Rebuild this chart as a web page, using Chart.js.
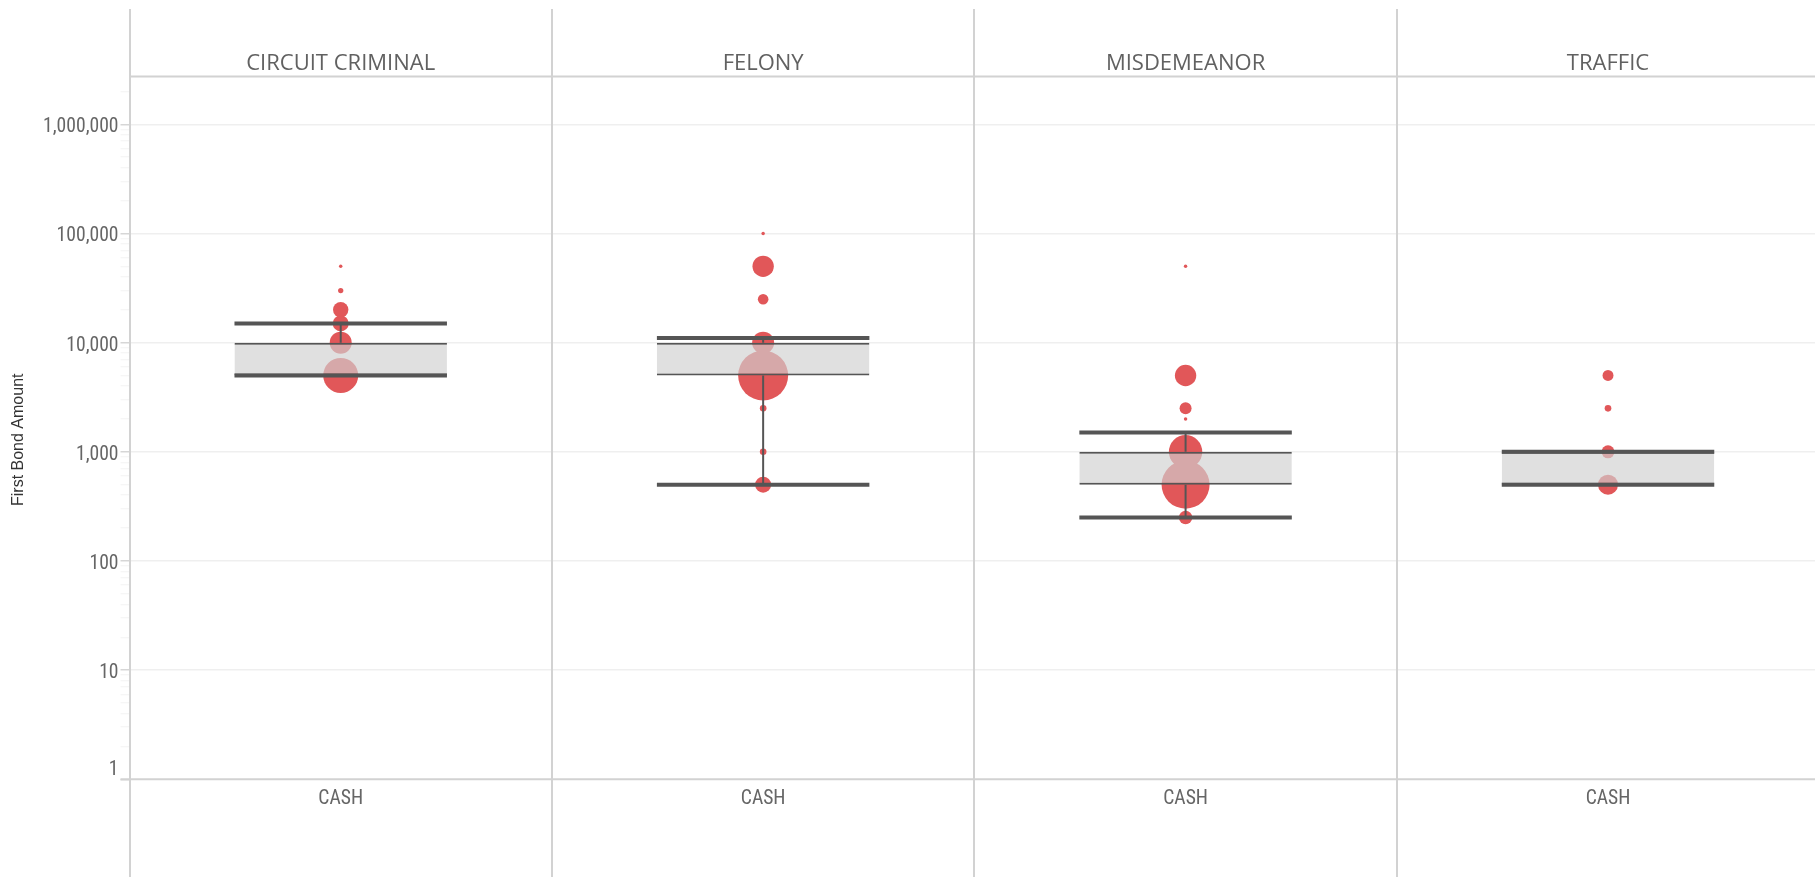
<!DOCTYPE html>
<html><head><meta charset="utf-8">
<script src="https://cdn.jsdelivr.net/npm/chart.js@4.4.1/dist/chart.umd.min.js"></script>
<style>html,body{margin:0;padding:0;background:#fff;overflow:hidden}</style>
</head><body>
<canvas id="c" width="1815" height="877"></canvas>
<script>
// ---- data ----
const panelTitles = ['CIRCUIT CRIMINAL', 'FELONY', 'MISDEMEANOR', 'TRAFFIC'];
const categoryLabels = ['CASH', 'CASH', 'CASH', 'CASH'];
const q1Values = [5000, 5000, 500, 500];
const q3Values = [10000, 10000, 1000, 1000];
const lowerWhiskers = [5000, 500, 250, 500];
const upperWhiskers = [15000, 11000, 1500, 1000];
const circuitAmounts = [50000, 30000, 20000, 15000, 10000, 5000];
const circuitCounts = [3, 7, 59, 64, 121, 306];
const felonyAmounts = [100000, 50000, 25000, 10000, 5000, 2500, 1000, 500];
const felonyCounts = [3, 114, 28, 121, 625, 11, 11, 64];
const misdemeanorAmounts = [50000, 5000, 2500, 2000, 1000, 500, 250];
const misdemeanorCounts = [3, 114, 36, 3, 279, 576, 45];
const trafficAmounts = [5000, 2500, 1000, 500];
const trafficCounts = [30, 11, 42, 100];
const yTickValues = [1, 10, 100, 1000, 10000, 100000, 1000000];
const yTickLabels = ['1', '10', '100', '1,000', '10,000', '100,000', '1,000,000'];
const yAxisTitle = 'First Bond Amount';

// ---- build ----
const amountsByPanel = [circuitAmounts, felonyAmounts, misdemeanorAmounts, trafficAmounts];
const countsByPanel = [circuitCounts, felonyCounts, misdemeanorCounts, trafficCounts];
const pointData = [];
amountsByPanel.forEach((arr, p) => arr.forEach((v, k) => pointData.push({x: p + 0.5, y: v, count: countsByPanel[p][k]})));
const boxData = q1Values.map((q, p) => ({x: p + 0.5, y: [q, q3Values[p]]}));
const whiskerLine = [];
q1Values.forEach((q, p) => {
  whiskerLine.push({x: p + 0.5, y: q3Values[p]}, {x: p + 0.5, y: upperWhiskers[p]}, {x: p + 0.5, y: null});
  whiskerLine.push({x: p + 0.5, y: lowerWhiskers[p]}, {x: p + 0.5, y: q}, {x: p + 0.5, y: null});
});
const capData = [];
q1Values.forEach((q, p) => { capData.push({x: p + 0.5, y: upperWhiskers[p]}, {x: p + 0.5, y: lowerWhiskers[p]}); });

const BOX_FRACTION = 0.503;
const RED = '#e15759';
const DARK = '#555555';

// pick an installed condensed font for tick labels
const probe = document.createElement('canvas').getContext('2d');
function hasFont(name) {
  const s = 'CASH 1,000,000 First Bond';
  probe.font = '40px monospace'; const m = probe.measureText(s).width;
  probe.font = '40px "' + name + '", monospace'; const w = probe.measureText(s).width;
  probe.font = '40px serif'; const sr = probe.measureText(s).width;
  probe.font = '40px "' + name + '", serif'; const w2 = probe.measureText(s).width;
  return w !== m || w2 !== sr;
}
const narrowCandidates = ['Liberation Sans Narrow', 'Arial Narrow', 'Roboto Condensed', 'DejaVu Sans Condensed', 'Roboto', 'Liberation Sans'];
const tickFamily = narrowCandidates.find(hasFont) || 'sans-serif';
probe.font = '20px "' + tickFamily + '"';
const wRef = probe.measureText('1,000,000').width;
const tickSize = Math.min(20, Math.round(20 * Math.sqrt(74 / wRef) * 10) / 10);

const isDecade = v => Math.abs(Math.log10(v) - Math.round(Math.log10(v))) < 1e-9;

const facetPlugin = {
  id: 'facets',
  beforeDraw(chart) {
    const c = chart.ctx;
    c.save(); c.fillStyle = '#fff'; c.fillRect(0, 0, chart.width, chart.height); c.restore();
  },
  afterDraw(chart) {
    const {ctx, chartArea: a, scales: {x}} = chart;
    ctx.save();
    ctx.strokeStyle = '#d2d2d2';
    ctx.lineWidth = 2;
    ctx.beginPath();
    ctx.moveTo(a.left, a.top); ctx.lineTo(a.right, a.top);
    ctx.moveTo(a.left - 9, a.bottom); ctx.lineTo(a.right, a.bottom);
    for (let i = 0; i < panelTitles.length; i++) {
      const px = Math.round(x.getPixelForValue(i));
      ctx.moveTo(px, 9); ctx.lineTo(px, chart.height);
    }
    ctx.stroke();
    ctx.fillStyle = '#616161';
    ctx.font = '22px "Open Sans", sans-serif';
    ctx.textAlign = 'center';
    ctx.textBaseline = 'alphabetic';
    panelTitles.forEach((t, i) => ctx.fillText(t, x.getPixelForValue(i + 0.5), a.top - 6.5));
    // y axis title
    ctx.fillStyle = '#333333';
    ctx.font = '16px "Liberation Sans", Arial, sans-serif';
    ctx.textBaseline = 'middle';
    ctx.translate(19, (a.top + chart.height) / 2 - 37);
    ctx.rotate(-Math.PI / 2);
    ctx.fillText(yAxisTitle, 0, 0);
    ctx.restore();
  }
};

new Chart(document.getElementById('c'), {
  data: {
    datasets: [
      {
        type: 'scatter', label: 'records', data: pointData, order: 3,
        backgroundColor: RED, borderWidth: 0,
        pointRadius: ctx => Math.sqrt(ctx.raw.count), pointHoverRadius: ctx => Math.sqrt(ctx.raw.count)
      },
      {
        type: 'bar', label: 'box', data: boxData, order: 2,
        backgroundColor: 'rgba(209,209,209,0.67)', borderColor: DARK,
        borderWidth: {top: 2, bottom: 2, left: 0, right: 0}, borderSkipped: false,
        barPercentage: BOX_FRACTION, categoryPercentage: 1
      },
      {
        type: 'line', label: 'whisker', data: whiskerLine, order: 1,
        borderColor: DARK, borderWidth: 2, pointRadius: 0, spanGaps: false, fill: false
      },
      {
        type: 'scatter', label: 'caps', data: capData, order: 0,
        pointStyle: 'line', borderColor: DARK, backgroundColor: DARK, borderWidth: 4,
        pointRadius: ctx => { const s = ctx.chart.scales.x; return (s.getPixelForValue(1) - s.getPixelForValue(0)) * BOX_FRACTION / 2; }
      }
    ]
  },
  options: {
    responsive: false, animation: false, devicePixelRatio: 1,
    layout: {padding: {top: 76.5, left: 0, right: 0, bottom: 0}, autoPadding: false},
    plugins: {legend: {display: false}, tooltip: {enabled: false}},
    scales: {
      x: {
        type: 'linear', min: 0, max: 3.99, offset: false,
        afterBuildTicks: s => { s.ticks = categoryLabels.map((l, i) => ({value: i + 0.5})); },
        afterFit: s => { s.height = 97.7; s.paddingLeft = 0; s.paddingRight = 0; },
        grid: {display: false, drawTicks: false, offset: false}, border: {display: false},
        ticks: {
          autoSkip: false, maxRotation: 0, padding: 8, color: '#666666',
          font: {family: '"' + tickFamily + '"', size: tickSize},
          callback: (v, i) => categoryLabels[i]
        }
      },
      y: {
        type: 'logarithmic', min: 1, max: 2740000,
        afterBuildTicks: s => {
          const t = [];
          yTickValues.forEach(d => { for (let m = 1; m <= 9; m++) { const v = d * m; if (v <= s.max) t.push({value: v}); } });
          s.ticks = t;
        },
        afterFit: s => { s.width = 129.5; s.paddingTop = 0; s.paddingBottom = 0; },
        border: {display: false},
        grid: {
          lineWidth: 1.5, tickLength: 9,
          color: c => (c.tick && isDecade(c.tick.value) && c.tick.value > 1) ? '#efefef' : 'rgba(0,0,0,0)',
          tickColor: c => (c.tick && isDecade(c.tick.value)) ? '#d6d6d6' : '#f3f3f3',
          tickWidth: c => (c.tick && isDecade(c.tick.value)) ? 1.5 : 1
        },
        ticks: {
          autoSkip: false, padding: 2, color: '#666666', labelOffset: 3,
          font: {family: '"' + tickFamily + '"', size: tickSize},
          callback: v => {
            const i = yTickValues.indexOf(v);
            if (i < 0) return '';
            return v === yTickValues[0] ? [yTickLabels[i], ''] : yTickLabels[i];
          }
        },
        title: {display: false}
      }
    }
  },
  plugins: [facetPlugin]
});
</script>
</body></html>
